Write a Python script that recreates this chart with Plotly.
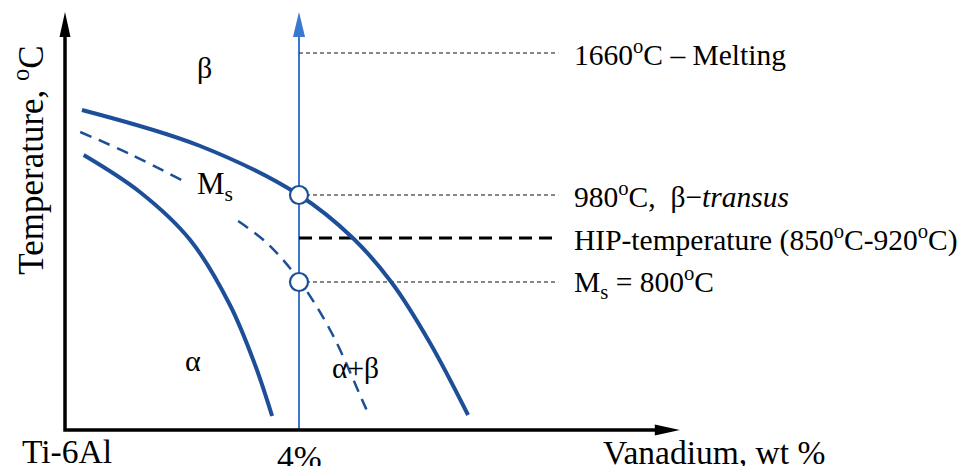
import plotly.graph_objects as go

# ---------------- data (schematic units: x = V wt%, y = schematic temperature height) ----------
beta_transus_x = [0.29, 2.31, 4.00, 4.92, 5.59, 6.24, 6.89]
beta_transus_y = [320, 284, 235, 192, 147, 87, 15]

ms_upper_x = [0.26, 1.11, 2.02]
ms_upper_y = [298, 276, 249]
ms_lower_x = [2.96, 3.47, 4.00, 4.56, 5.08, 5.21]
ms_lower_y = [209, 186, 150, 97, 30, 13]

alpha_x = [0.32, 1.28, 2.14, 2.82, 3.25, 3.54]
alpha_y = [275, 238, 190, 125, 65, 14]

alloy_x = 4.0                      # Ti-6Al-4V
ref_levels_y = [377, 235, 192, 148]   # 1660 melting, 980 beta-transus, HIP, Ms
ref_line_end_x = 8.43
ref_labels = ["1660<sup>o</sup>C – Melting",
              "980<sup>o</sup>C,  β−<i>transus</i>",
              "HIP-temperature (850<sup>o</sup>C-920<sup>o</sup>C)",
              "M<sub>s</sub> = 800<sup>o</sup>C"]
marked_points_y = [235, 148]

x_tick_labels = ["Ti-6Al", "4%"]
x_tick_pos = [0.03, 4.0]

# ---------------- geometry / styling ----------------
W, H = 960, 466
PX_X = 58.5                  # px per x unit
X_RANGE = [-65 / PX_X, (W - 65) / PX_X]
Y_RANGE = [-36, 430]
X_END = 10.51                # axis arrow tip
Y_END = 418
HEAD_LEN = 25
HEAD_HALF = 5.5

CURVE = "#1d4f98"
VLINE = "#3a78d2"
FONT = "Liberation Serif"
FS = 29.5

fig = go.Figure()

# vertical alloy line (blue)
fig.add_trace(go.Scatter(x=[alloy_x, alloy_x], y=[0, Y_END - HEAD_LEN + 2], mode="lines",
                         line=dict(color=VLINE, width=2), hoverinfo="skip"))

# reference dashed lines
for i, yv in enumerate(ref_levels_y):
    if i == 2:
        ln = dict(color="black", width=3, dash="13px,7px")
    else:
        ln = dict(color="#111111", width=1.1, dash="4px,3px")
    fig.add_trace(go.Scatter(x=[alloy_x, ref_line_end_x], y=[yv, yv], mode="lines",
                             line=ln, hoverinfo="skip"))

# phase boundaries
fig.add_trace(go.Scatter(x=beta_transus_x, y=beta_transus_y, mode="lines",
                         line=dict(color=CURVE, width=4, shape="spline"), hoverinfo="skip"))
fig.add_trace(go.Scatter(x=alpha_x, y=alpha_y, mode="lines",
                         line=dict(color=CURVE, width=4, shape="spline"), hoverinfo="skip"))
for xs, ys in [(ms_upper_x, ms_upper_y), (ms_lower_x, ms_lower_y)]:
    fig.add_trace(go.Scatter(x=xs, y=ys, mode="lines",
                             line=dict(color=CURVE, width=2.5, shape="spline", dash="12px,8px"),
                             hoverinfo="skip"))

# marked points
fig.add_trace(go.Scatter(x=[alloy_x] * len(marked_points_y), y=marked_points_y, mode="markers",
                         marker=dict(size=18, color="white", line=dict(color=CURVE, width=2.2)),
                         hoverinfo="skip"))

# axes lines
fig.add_trace(go.Scatter(x=[0, 0, X_END - HEAD_LEN / PX_X + 0.05], y=[Y_END - HEAD_LEN + 2, 0, 0],
                         mode="lines", line=dict(color="black", width=3.5), hoverinfo="skip"))

# arrowheads
hx = HEAD_HALF / PX_X
shapes = [
    dict(type="path", xref="x", yref="y", line=dict(width=0), fillcolor="black",
         path=f"M {-hx} {Y_END - HEAD_LEN} L 0 {Y_END} L {hx} {Y_END - HEAD_LEN} Z"),
    dict(type="path", xref="x", yref="y", line=dict(width=0), fillcolor=VLINE,
         path=f"M {alloy_x - hx * 1.1} {Y_END - HEAD_LEN} L {alloy_x} {Y_END} L {alloy_x + hx * 1.1} {Y_END - HEAD_LEN} Z"),
    dict(type="path", xref="x", yref="y", line=dict(width=0), fillcolor="black",
         path=f"M {X_END - HEAD_LEN / PX_X} {-HEAD_HALF} L {X_END} 0 L {X_END - HEAD_LEN / PX_X} {HEAD_HALF} Z"),
]

ann = []
def txt(x, y, s, xanchor="center", size=FS, angle=0):
    ann.append(dict(x=x, y=y, xref="x", yref="y", text=s, showarrow=False, xanchor=xanchor,
                    yanchor="middle", textangle=angle, font=dict(family=FONT, size=size, color="black")))

for yv, lab in zip(ref_levels_y, ref_labels):
    txt(8.67, yv, lab, xanchor="left")

txt(2.39, 363, "β", size=30)
txt(2.57, 244, "M<sub>s</sub>", size=31)
txt(2.19, 70, "α", size=30)
txt(4.97, 62, "α+β", size=29.5)
txt(x_tick_pos[0], -21, x_tick_labels[0], size=33.5)
txt(x_tick_pos[1], -27, x_tick_labels[1], size=33.5)
txt(11.09, -22, "Vanadium, wt %", size=33.5)
txt(-0.62, 270, "Temperature, <sup>o</sup>C", size=35, angle=-90)

fig.update_layout(width=W, height=H, margin=dict(l=0, r=0, t=0, b=0),
                  paper_bgcolor="white", plot_bgcolor="white", showlegend=False,
                  xaxis=dict(range=X_RANGE, visible=False, fixedrange=True),
                  yaxis=dict(range=Y_RANGE, visible=False, fixedrange=True),
                  shapes=shapes, annotations=ann)

fig.write_html("out.html")
